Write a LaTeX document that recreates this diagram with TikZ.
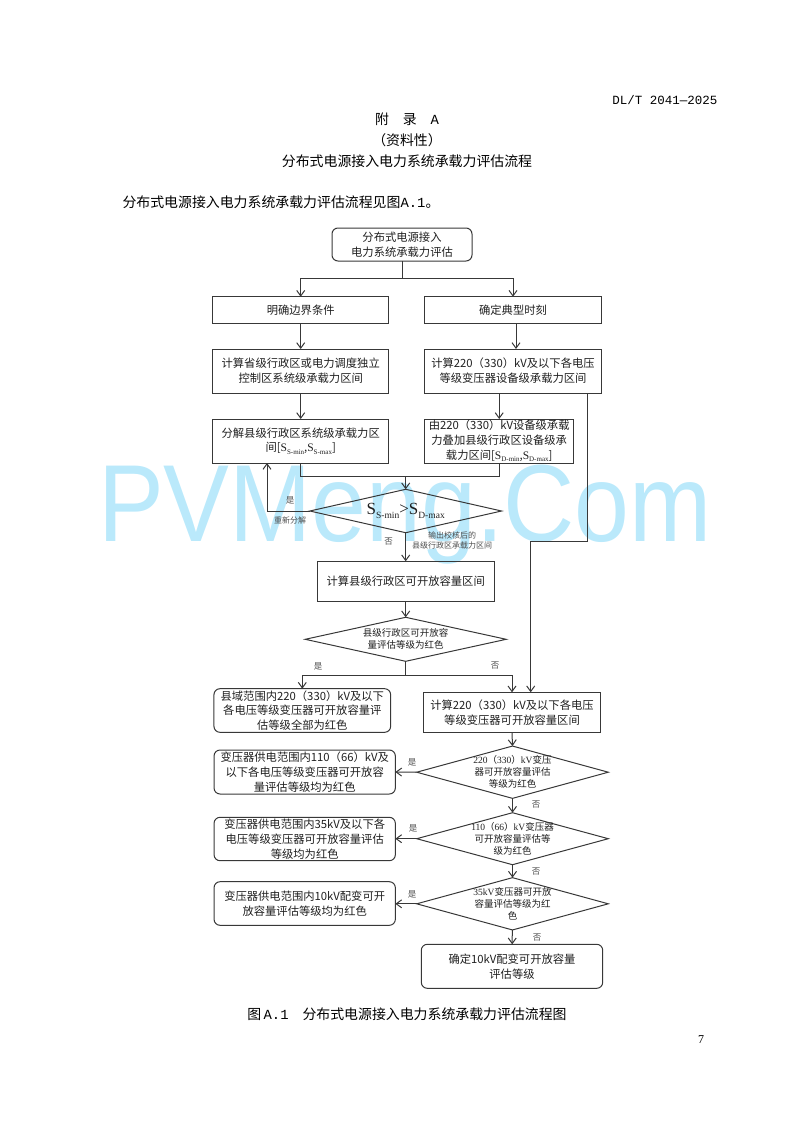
\documentclass[tikz,border=0pt]{standalone}
\usepackage{fontspec}
\setmainfont{Noto Sans CJK SC}
\newfontfamily\tnr{Liberation Serif}
\newfontfamily\mon{Liberation Mono}
\newfontfamily\wmk{Liberation Sans}
\usetikzlibrary{arrows.meta,shapes.geometric,calc}
\newcommand{\tn}[1]{{\tnr #1}}
\newcommand{\ms}[1]{{\mon #1}}
\newcommand{\SubS}[3]{{\tnr\fontsize{#1}{#1}\selectfont S\raisebox{-.22em}{\fontsize{#3}{#3}\selectfont #2}}}

\begin{document}
\begin{tikzpicture}[
			x=1pt, y=-1pt,
			line width=1pt,
			color=black!78,
			text=black!88,
			font=\fontsize{11.3}{14.8}\selectfont,
			Box/.style={draw, align=center, inner sep=0pt, outer sep=0pt},
			RBox/.style={Box, rounded corners=6pt},
			Dia/.style={draw, diamond, align=center, inner sep=-9pt, outer sep=0pt,
				font=\fontsize{9.5}{12}\selectfont},
			Note/.style={font=\fontsize{8.5}{10.5}\selectfont, align=center, inner sep=0pt, text=black!70},
			Page/.style={font=\fontsize{13.9}{16}\selectfont, inner sep=0pt, text=black},
			Arr/.style={-{Straight Barb[length=5.5pt,width=8pt]}},
			]
			\useasboundingbox (0,0) rectangle (793,1122);
			
			\node [font=\wmk\fontsize{109.6}{110}\selectfont, text=cyan!27, xscale=0.9, inner sep=0pt, anchor=base] (wm) at (405,541.7) {PVMeng.Com};
			
			\node [Page, anchor=east, font=\mon\fontsize{12.5}{14}\selectfont] (code) at (718,100) {DL/T 2041—2025};
			\node [Page] (t1) at (407,119) {附　录　\ms{A}};
			\node [Page] (t2) at (407,140) {（资料性）};
			\node [Page] (t3) at (407,161) {分布式电源接入电力系统承载力评估流程};
			\node [Page, anchor=west] (intro) at (122,202) {分布式电源接入电力系统承载力评估流程见图\ms{A.1}。};
			\node [Page] (cap) at (407,1014) {图\,\ms{A.1}\hspace{1em}分布式电源接入电力系统承载力评估流程图};
			\node [Page, font=\tnr\fontsize{12}{14}\selectfont] (pg) at (701,1040) {7};
			
			\node [RBox, minimum width=140pt, minimum height=33pt] (start) at (402,244.5) {分布式电源接入\\电力系统承载力评估};
			
			\node [Box, minimum width=176pt, minimum height=26.5pt] (bound) at (300.7,310) {明确边界条件};
			\node [Box, minimum width=177.5pt, minimum height=26.5pt] (moment) at (513,310) {确定典型时刻};
			\node [Box, minimum width=176pt, minimum height=44pt] (prov) at (300.7,371) {计算省级行政区或电力调度独立\\控制区系统级承载力区间};
			\node [Box, minimum width=177.5pt, minimum height=44pt] (devcalc) at (513,371) {计算220（330）kV及以下各电压\\等级变压器设备级承载力区间};
			\node [Box, minimum width=176pt, minimum height=44pt] (split) at (300.7,441) {分解县级行政区系统级承载力区\\间[\SubS{11.5}{S-min}{7},\SubS{11.5}{S-max}{7}]};
			\node [Box, minimum width=149.5pt, minimum height=44pt] (devadd) at (499.2,441) {由220（330）kV设备级承载\\力叠加县级行政区设备级承\\载力区间[\SubS{11.5}{D-min}{7},\SubS{11.5}{D-max}{7}]};
			
			\node [Dia, minimum width=191.7pt, minimum height=43.4pt, shape aspect=4.4] (check) at (405.7,511) {\SubS{17}{S-min}{9.5}{\tnr\fontsize{17}{17}\selectfont >}\SubS{17}{D-max}{9.5}};
			\node [Box, minimum width=176.7pt, minimum height=40pt] (county) at (405.7,581.3) {计算县级行政区可开放容量区间};
			\node [Dia, minimum width=201pt, minimum height=44pt, shape aspect=4.4] (red) at (405.7,639.3) {县级行政区可开放容\\量评估等级为红色};
			
			\node [RBox, minimum width=176.7pt, minimum height=43.6pt] (allred) at (302.3,710.5) {县域范围内220（330）kV及以下\\各电压等级变压器可开放容量评\\估等级全部为红色};
			\node [Box, minimum width=177.4pt, minimum height=40pt] (trans) at (512,712.3) {计算220（330）kV及以下各电压\\等级变压器可开放容量区间};
			
			\node [Dia, minimum width=191.6pt, minimum height=52.3pt, shape aspect=3.7] (d220) at (512.5,772.2) {\tn{220}（\tn{330}）\tn{kV}变压\\器可开放容量评估\\等级为红色};
			\node [Dia, minimum width=191.6pt, minimum height=52pt, shape aspect=3.7] (d110) at (512.5,838.7) {\tn{110}（\tn{66}）\tn{kV}变压器\\可开放容量评估等\\级为红色};
			\node [Dia, minimum width=191.6pt, minimum height=52.3pt, shape aspect=3.7] (d35) at (512.5,903.8) {\tn{35kV}变压器可开放\\容量评估等级为红\\色};
			
			\node [RBox, minimum width=181.3pt, minimum height=44pt] (r110) at (304.7,772) {变压器供电范围内110（66）kV及\\以下各电压等级变压器可开放容\\量评估等级均为红色};
			\node [RBox, minimum width=181.3pt, minimum height=43.4pt] (r35) at (304.7,839) {变压器供电范围内35kV及以下各\\电压等级变压器可开放容量评估\\等级均为红色};
			\node [RBox, minimum width=181.3pt, minimum height=43.6pt] (r10) at (304.7,903.5) {变压器供电范围内10kV配变可开\\放容量评估等级均为红色};
			\node [RBox, minimum width=181.4pt, minimum height=44pt] (final) at (512,966.3) {确定10kV配变可开放容量\\评估等级};
			
			\coordinate (j1) at (402,278.7);
			\coordinate (j2) at (405.7,476);
			\coordinate (j3) at (405.7,675);
			\coordinate (j4) at (530.7,541.7);
			\coordinate (lp) at (267,511);
			\coordinate (rx) at (587.3,393);
			\coordinate (mx) at (516,0);
			
			\draw (start.south) -- (j1);
			\draw [Arr] (j1) -| (bound.north);
			\draw [Arr] (j1) -| (moment.north);
			\draw [Arr] (bound) -- (prov);
			\draw [Arr] (moment.south -| mx) -- (devcalc.north -| mx);
			\draw [Arr] (prov) -- (split);
			\draw [Arr] (devcalc.south -| devadd.north) -- (devadd.north);
			\draw (split.south) |- (j2);
			\draw (devadd.south) |- (j2);
			\draw [Arr] (j2) -- (check.north);
			\draw [Arr] (check.west) -- (lp) -- (lp |- split.south);
			\draw [Arr] (check.south) -- (county.north);
			\draw [Arr] (county) -- (red);
			\draw (red.south) -- (j3);
			\draw [Arr] (j3) -| (allred.north);
			\draw [Arr] (j3) -| (trans.north);
			\draw [Arr] (rx) |- (j4) -- (j4 |- trans.north);
			\draw [Arr] (trans.south) -- (d220.north);
			\draw [Arr] (d220) -- (d110);
			\draw [Arr] (d110) -- (d35);
			\draw [Arr] (d35) -- (final);
			\draw [Arr] (d220.west) -- (r110.east);
			\draw [Arr] (d110.west) -- (d110.west -| r35.east);
			\draw [Arr] (d35.west) -- (d35.west -| r10.east);
			
			\node [Note] (y1) at (290,500.7) {是};
			\node [Note, font=\fontsize{8}{10}\selectfont] (resp) at (290,520) {重新分解};
			\node [Note] (n1) at (388.7,541.7) {否};
			\node [Note, font=\fontsize{8}{10}\selectfont] (out) at (452,540) {输出校核后的\\县级行政区承载力区间};
			\node [Note] (y2) at (318,666) {是};
			\node [Note] (n2) at (495,666) {否};
			\node [Note] (y3) at (412,762.5) {是};
			\node [Note] (n3) at (536,804.7) {否};
			\node [Note] (y4) at (413,828) {是};
			\node [Note] (n4) at (536,872) {否};
			\node [Note] (y5) at (412,894) {是};
			\node [Note] (n5) at (537,937) {否};
		\end{tikzpicture}
\end{document}
